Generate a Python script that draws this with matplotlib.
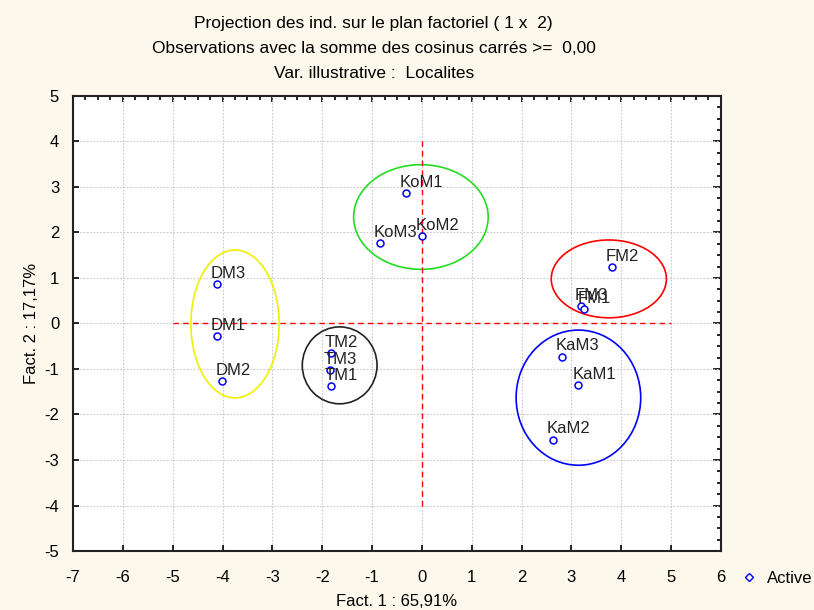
import matplotlib.pyplot as plt
from matplotlib.patches import Ellipse
from matplotlib.ticker import MultipleLocator

plt.rcParams['font.family'] = ['Liberation Sans', 'DejaVu Sans']
plt.rcParams['axes.unicode_minus'] = False

# Coordonnées des individus (Fact. 1, Fact. 2)
noms = ["KoM1", "KoM2", "KoM3", "FM2", "FM3", "FM1", "DM3", "DM1", "DM2",
        "TM2", "TM3", "TM1", "KaM3", "KaM1", "KaM2"]
fact1 = [-0.32, 0.0, -0.84, 3.81, 3.19, 3.25, -4.11, -4.11, -4.01,
         -1.83, -1.85, -1.83, 2.81, 3.14, 2.63]
fact2 = [2.87, 1.92, 1.77, 1.24, 0.38, 0.32, 0.87, -0.27, -1.26,
         -0.65, -1.02, -1.37, -0.73, -1.35, -2.55]

# Groupes (ellipses): centre x, centre y, largeur, hauteur, couleur
groupes_cx = [-0.02, 3.75, 3.14, -3.75, -1.65]
groupes_cy = [2.34, 0.98, -1.63, -0.01, -0.92]
groupes_w = [2.7, 2.31, 2.5, 1.77, 1.5]
groupes_h = [2.3, 1.71, 2.97, 3.25, 1.69]
groupes_col = ["#22dd22", "red", "blue", "#f0f000", "#222222"]

fig = plt.figure(figsize=(8.14, 6.10), dpi=100, facecolor="#fdf8ec")
ax = fig.add_axes([0.0897, 0.0967, 0.796, 0.746])
ax.set_facecolor("white")

ax.set_xlim(-7, 6)
ax.set_ylim(-5, 5)
ax.xaxis.set_major_locator(MultipleLocator(1))
ax.yaxis.set_major_locator(MultipleLocator(1))
ax.grid(True, color="#c8c8c8", linestyle=(0, (1.5, 1.5)), linewidth=0.8)
ax.set_axisbelow(True)

ax.tick_params(axis="x", direction="in", length=4, width=1.2, labelsize=12, pad=14)
ax.tick_params(axis="y", direction="in", length=4, width=1.2, labelsize=12, pad=10)
sec_x = ax.secondary_xaxis("top")
sec_x.xaxis.set_major_locator(MultipleLocator(1))
sec_x.xaxis.set_minor_locator(MultipleLocator(0.25))
sec_x.tick_params(which="both", direction="in", labeltop=False, length=3, width=1.2)
sec_x.tick_params(which="major", length=4)
sec_y = ax.secondary_yaxis("right")
sec_y.yaxis.set_major_locator(MultipleLocator(1))
sec_y.yaxis.set_minor_locator(MultipleLocator(0.25))
sec_y.tick_params(which="both", direction="in", labelright=False, length=3, width=1.2)
sec_y.tick_params(which="major", length=6)
for s in ax.spines.values():
    s.set_linewidth(1.5)
    s.set_color("#222222")
sec_x.spines["top"].set_visible(False)
sec_y.spines["right"].set_visible(False)

ax.plot([-5, 5], [0, 0], color="red", linestyle=(0, (4, 3)), linewidth=1)
ax.plot([0, 0], [-4, 4], color="red", linestyle=(0, (4, 3)), linewidth=1)

for cx, cy, w, h, c in zip(groupes_cx, groupes_cy, groupes_w, groupes_h, groupes_col):
    ax.add_patch(Ellipse((cx, cy), w, h, fill=False, edgecolor=c, linewidth=1.2))

ax.plot(fact1, fact2, linestyle="none", marker="o", markersize=5,
        markerfacecolor="white", markeredgecolor="blue", markeredgewidth=1.1)
for n, x, y in zip(noms, fact1, fact2):
    ax.annotate(n, (x, y), xytext=(-4.5, 4.5), textcoords="offset points",
                fontsize=12, color="#222222")

ax.set_xlabel("Fact. 1 : 65,91%", fontsize=12, labelpad=6)
ax.set_ylabel("Fact. 2 : 17,17%", fontsize=12, labelpad=4)

fig.text(0.459, 0.962, "Projection des ind. sur le plan factoriel ( 1 x  2)",
         ha="center", va="center", fontsize=12.5)
fig.text(0.459, 0.921, "Observations avec la somme des cosinus carrés >=  0,00",
         ha="center", va="center", fontsize=12.5)
fig.text(0.459, 0.880, "Var. illustrative :  Localites",
         ha="center", va="center", fontsize=12.5)

# légende
fig.legend(handles=[plt.Line2D([], [], linestyle="none", marker="D", markersize=4,
                               markerfacecolor="white", markeredgecolor="blue")],
           labels=["Active"], loc="center left", bbox_to_anchor=(0.895, 0.052),
           frameon=False, fontsize=12, handletextpad=0.8, handlelength=0.6)

fig.savefig("out.png", dpi=100, facecolor=fig.get_facecolor())
